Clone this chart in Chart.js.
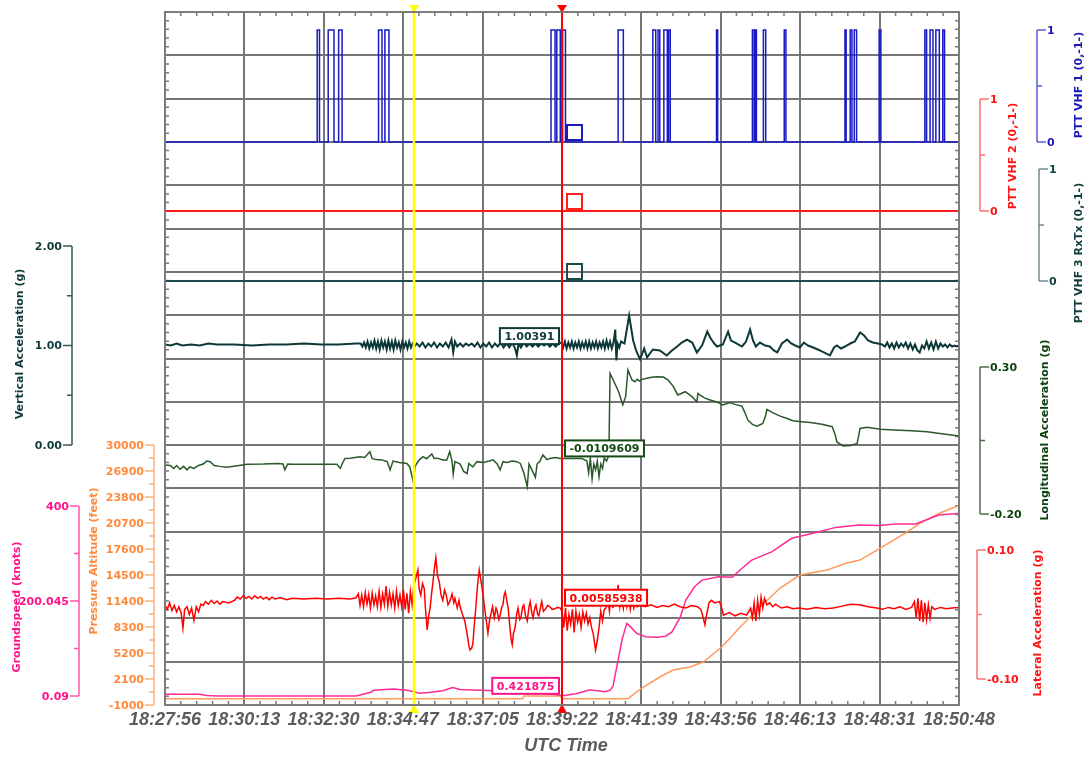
<!DOCTYPE html>
<html>
<head>
<meta charset="utf-8">
<title>Flight data plot</title>
<script src="https://cdn.jsdelivr.net/npm/chart.js@4.4.1/dist/chart.umd.min.js"></script>
<style>
  html, body { margin: 0; padding: 0; background: #fff; }
  canvas { display: block; }
</style>
</head>
<body>
<canvas id="chart" width="1089" height="761"></canvas>
<script>
// time axis, seconds after 18:27:56 UTC
const timeLabels = ['18:27:56', '18:30:13', '18:32:30', '18:34:47', '18:37:05', '18:39:22',
                    '18:41:39', '18:43:56', '18:46:13', '18:48:31', '18:50:48'];
const timeSeconds = [0, 137, 274, 411, 549, 686, 823, 960, 1097, 1235, 1372];
const cursorSeconds = [430, 686]; // yellow, red

// PTT VHF 1 switching (time, state)
const vhf1Time = [0, 263, 267, 282, 292, 300, 306, 369, 375, 380, 387, 667, 674, 677, 683, 687, 692,
  783, 792, 843, 848, 852, 855, 862, 868, 870, 873, 953, 955, 1015, 1018, 1020, 1022, 1034, 1038,
  1070, 1073, 1175, 1177, 1184, 1187, 1191, 1195, 1234, 1237, 1313, 1316, 1322, 1327, 1332, 1338,
  1344, 1347, 1372];
const vhf1State = [0, 1, 0, 1, 0, 1, 0, 1, 0, 1, 0, 1, 0, 1, 0, 1, 0,
  1, 0, 1, 0, 1, 0, 1, 0, 1, 0, 1, 0, 1, 0, 1, 0, 1, 0,
  1, 0, 1, 0, 1, 0, 1, 0, 1, 0, 1, 0, 1, 0, 1, 0,
  1, 0, 0];
const vhf2Time = [0, 1372];
const vhf2State = [0, 0];
const vhf3Time = [0, 1372];
const vhf3State = [0, 0];

// vertical acceleration (g)
const vertAcc = [
  [0,1.01],[10,1.00],[20,1.02],[30,1.00],[45,1.01],[60,1.00],[75,1.02],[90,1.01],[120,1.01],[150,1.00],
  [180,1.01],[210,1.01],[240,1.02],[270,1.01],[300,1.01],[330,1.02],
  [338,1.02],[341,0.99],[344,1.03],[347,0.98],[350,1.04],[353,0.97],[356,1.03],[359,0.98],[362,1.05],
  [365,0.97],[368,1.04],[371,0.96],[374,1.05],[377,0.98],[380,1.04],[383,0.96],[386,1.05],[389,0.97],
  [392,1.04],[395,0.96],[398,1.05],[401,0.98],[404,1.03],[407,0.96],[410,1.04],[413,0.98],[416,1.03],
  [419,0.97],[422,1.04],[425,0.98],[428,1.02],[431,0.99],
  [435,1.02],[440,0.99],[445,1.03],[450,0.98],[455,1.02],[460,0.99],[465,1.03],[470,0.98],[475,1.02],
  [480,0.99],[485,1.03],[490,0.98],[495,1.06],[498,0.93],[501,1.04],[505,0.99],[510,1.02],[515,0.99],
  [520,1.02],[525,1.00],[530,1.02],[535,0.99],[540,1.03],[545,0.98],[550,1.02],[555,0.99],[560,1.03],
  [565,0.98],[570,1.02],[575,0.99],[580,1.03],[585,0.98],[590,1.02],[595,0.98],[600,1.03],[605,0.97],
  [608,0.90],[611,1.02],[615,0.98],[620,1.03],[625,0.99],[630,1.02],[635,0.99],[640,1.02],[645,0.99],
  [650,1.02],[655,1.00],[660,1.02],[665,0.99],[670,1.02],[675,0.99],[680,1.02],
  [685,1.03],[688,0.98],[691,1.04],[694,0.97],[697,1.03],[700,0.98],[703,1.04],[706,0.97],[709,1.03],
  [712,0.98],[715,1.04],[718,0.97],[721,1.03],[724,0.98],[727,1.04],[730,0.97],[733,1.04],[736,0.97],
  [739,1.03],[742,0.98],[745,1.04],[748,0.97],[751,1.03],[754,0.98],[757,1.04],[760,0.97],[763,1.05],
  [766,0.98],[769,1.04],[772,0.97],[775,1.03],[778,1.16],[780,0.85],[782,1.02],[785,0.98],[788,1.04],
  [794,1.02],[802,1.30],[809,1.05],[814,0.95],[821,0.86],[828,0.97],[833,0.88],[843,0.96],[855,0.95],
  [867,0.90],[876,0.95],[885,0.99],[893,1.03],[902,1.06],[911,1.03],[919,0.93],[928,1.00],[937,1.14],
  [942,1.08],[949,1.02],[954,0.99],[964,1.01],[973,1.14],[978,1.05],[985,1.03],[997,0.99],[1004,1.04],
  [1011,1.16],[1016,1.05],[1021,0.99],[1028,1.03],[1037,1.00],[1045,0.99],[1052,0.95],[1058,0.93],
  [1066,1.02],[1075,1.06],[1082,1.02],[1089,1.00],[1097,0.98],[1104,1.03],[1111,1.00],[1120,0.98],
  [1128,0.96],[1135,0.94],[1142,0.92],[1149,0.90],[1156,0.98],[1161,1.00],[1168,0.97],[1175,0.99],
  [1184,1.02],[1192,1.04],[1201,1.13],[1208,1.10],[1215,1.05],[1223,1.03],[1232,1.02],[1239,1.01],
  [1244,0.99],[1248,1.03],[1252,0.98],[1256,1.02],[1260,0.97],[1264,1.03],[1268,0.98],[1272,1.02],
  [1276,0.99],[1280,1.03],[1284,0.97],[1288,1.02],[1292,0.96],[1296,1.01],[1300,0.95],[1304,0.93],
  [1308,1.00],[1312,0.97],[1316,1.04],[1320,0.97],[1324,1.03],[1328,0.96],[1332,1.04],[1336,0.97],
  [1340,1.02],[1344,0.99],[1348,1.01],[1352,0.98],[1356,1.01],[1360,0.99],[1364,1.00],[1368,0.99],[1372,1.00]
];

// longitudinal acceleration (g)
const lonAcc = [
  [0,-0.033],[9,-0.035],[15,-0.045],[20,-0.035],[26,-0.048],[32,-0.038],[38,-0.050],[43,-0.040],
  [50,-0.045],[58,-0.035],[66,-0.030],[72,-0.020],[78,-0.022],[85,-0.035],[95,-0.038],[107,-0.041],
  [125,-0.036],[142,-0.031],[170,-0.030],[195,-0.028],[204,-0.030],[207,-0.050],[212,-0.030],[221,-0.031],
  [260,-0.031],[297,-0.031],[303,-0.045],[306,-0.030],[311,-0.011],[320,-0.010],[337,-0.005],[345,-0.008],
  [354,0.012],[358,-0.012],[365,-0.015],[375,-0.016],[384,-0.022],[389,-0.050],[394,-0.020],[405,-0.025],
  [418,-0.028],[423,-0.040],[429,-0.090],[432,-0.040],[435,-0.028],[440,-0.015],[446,-0.005],[452,-0.012],
  [461,0.004],[465,-0.011],[470,-0.010],[480,-0.016],[487,-0.016],[492,0.012],[496,-0.020],[498,-0.065],
  [501,-0.022],[510,-0.030],[516,-0.055],[522,-0.062],[525,-0.028],[532,-0.040],[539,-0.022],[550,-0.025],
  [560,-0.020],[567,-0.016],[574,-0.030],[579,-0.050],[584,-0.022],[591,-0.025],[600,-0.020],[608,-0.022],
  [614,-0.028],[620,-0.060],[626,-0.107],[629,-0.030],[634,-0.050],[640,-0.075],[643,-0.030],[648,-0.020],
  [653,0.001],[660,-0.015],[665,-0.011],[675,-0.008],[683,-0.011],[695,-0.011],[710,-0.011],[720,-0.011],
  [729,-0.020],[732,-0.060],[735,-0.010],[738,-0.080],[741,-0.030],[744,-0.050],[747,-0.020],[750,-0.073],
  [753,-0.030],[756,-0.045],[759,-0.010],[763,-0.020],[767,0.000],[769,0.278],[776,0.250],[784,0.215],
  [791,0.171],[796,0.200],[800,0.290],[804,0.270],[807,0.256],[812,0.250],[816,0.258],[820,0.252],
  [824,0.258],[833,0.262],[841,0.265],[850,0.267],[861,0.266],[869,0.256],[878,0.235],[886,0.205],
  [892,0.210],[899,0.216],[910,0.200],[919,0.182],[921,0.210],[924,0.205],[932,0.195],[942,0.188],
  [955,0.180],[964,0.171],[970,0.175],[976,0.179],[986,0.172],[997,0.167],[1002,0.145],[1007,0.120],
  [1015,0.105],[1023,0.099],[1033,0.108],[1038,0.135],[1040,0.156],[1050,0.145],[1063,0.133],[1075,0.125],
  [1085,0.117],[1100,0.114],[1115,0.111],[1135,0.105],[1153,0.097],[1158,0.070],[1161,0.045],[1172,0.031],
  [1185,0.033],[1196,0.040],[1199,0.070],[1201,0.091],[1213,0.095],[1236,0.088],[1260,0.086],[1290,0.083],
  [1317,0.080],[1345,0.072],[1372,0.065]
];

// lateral acceleration (g)
const latAcc = [
  [0,0.015],[4,0.008],[8,0.018],[12,0.006],[16,0.014],[20,0.004],[24,0.012],[28,0.002],[31,-0.021],
  [34,0.008],[38,0.012],[42,0.000],[46,0.010],[50,-0.009],[54,0.012],[58,0.004],[62,0.016],[66,0.014],
  [70,0.020],[75,0.016],[80,0.022],[85,0.017],[90,0.021],[95,0.016],[100,0.020],[110,0.018],[120,0.022],
  [125,0.027],[130,0.024],[135,0.029],[140,0.025],[145,0.028],[150,0.024],[155,0.029],[160,0.025],
  [165,0.028],[170,0.024],[175,0.027],[180,0.023],[185,0.027],[190,0.024],[200,0.026],[210,0.023],
  [220,0.025],[240,0.024],[260,0.025],[280,0.024],[300,0.025],[320,0.024],[330,0.026],
  [334,0.032],[337,0.014],[340,0.030],[343,0.012],[346,0.034],[349,0.016],[352,0.031],[355,0.010],
  [358,0.033],[361,0.015],[364,0.029],[367,0.012],[370,0.036],[373,0.011],[376,0.032],[379,0.016],
  [382,0.044],[385,0.013],[388,0.034],[391,0.015],[394,0.032],[397,0.010],[400,0.036],[403,0.014],
  [406,0.030],[409,0.012],[412,0.038],[415,0.008],[418,0.033],[421,0.002],[424,0.036],[427,0.015],[430,0.045],
  [437,0.069],[439,0.040],[442,0.030],[445,0.048],[448,0.040],[450,0.010],[453,-0.024],[456,0.000],
  [458,0.010],[461,0.035],[463,0.050],[466,0.075],[468,0.088],[471,0.060],[474,0.050],[477,0.030],
  [480,0.022],[483,0.038],[486,0.030],[489,0.015],[492,0.020],[496,0.032],[499,0.018],[501,0.025],
  [505,0.010],[508,0.022],[510,0.012],[514,0.000],[518,-0.010],[522,-0.030],[525,-0.048],[527,-0.055],
  [530,-0.052],[532,-0.045],[535,-0.010],[537,0.010],[540,0.045],[543,0.069],[546,0.052],[548,0.040],
  [551,0.020],[553,0.005],[556,-0.015],[558,-0.029],[561,-0.008],[563,0.000],[566,0.012],[569,-0.005],
  [572,0.010],[574,0.005],[577,-0.008],[579,-0.002],[582,0.012],[584,0.015],[586,0.030],[588,0.035],
  [591,0.020],[593,0.010],[596,-0.020],[598,-0.038],[600,-0.047],[602,-0.030],[605,-0.020],[608,0.002],
  [610,0.010],[613,-0.008],[615,-0.005],[618,0.012],[620,0.015],[623,-0.002],[626,-0.010],[629,0.012],
  [631,0.020],[634,0.002],[636,-0.005],[639,0.010],[641,0.015],[644,0.000],[646,-0.002],[649,0.012],
  [651,0.020],[654,0.005],[657,0.008],[661,0.014],[665,0.012],[669,0.008],[674,0.009],[678,0.011],[683,0.010],
  [686,0.005],[689,-0.020],[692,0.010],[695,-0.025],[698,0.000],[701,-0.015],[704,0.008],[707,-0.028],
  [710,0.005],[713,-0.012],[716,0.000],[719,-0.020],[722,0.004],[725,-0.010],[728,0.002],[731,-0.015],
  [734,-0.005],[737,-0.020],[740,-0.030],[744,-0.055],[747,-0.040],[750,-0.020],[753,0.005],[756,-0.010],
  [759,0.008],[762,0.010],[765,0.025],[768,0.005],[771,0.035],[774,0.010],[777,0.040],[780,0.015],
  [783,0.046],[786,0.012],[789,0.030],[792,0.010],[795,0.028],[798,0.012],[801,0.030],[804,0.008],
  [807,0.025],[810,0.010],[813,0.020],[816,0.012],[820,0.015],
  [830,0.012],[840,0.015],[850,0.011],[860,0.014],[870,0.012],[880,0.016],[890,0.012],[900,0.010],
  [910,0.014],[920,0.012],[926,0.008],[930,-0.005],[933,-0.016],[936,0.000],[940,0.018],[944,0.022],
  [950,0.018],[958,0.020],[962,0.010],[965,-0.001],[975,0.003],[985,-0.002],[995,0.002],[1005,-0.001],
  [1012,0.010],[1015,-0.005],[1018,0.018],[1021,-0.010],[1024,0.022],[1027,0.000],[1030,0.027],[1033,0.010],
  [1036,0.025],[1040,0.015],[1045,0.018],[1050,0.012],[1055,0.016],[1065,0.010],[1075,0.012],[1085,0.009],
  [1095,0.010],[1110,0.008],[1125,0.011],[1140,0.009],[1155,0.010],[1170,0.013],[1185,0.016],[1200,0.015],
  [1215,0.012],[1230,0.010],[1240,0.008],[1250,0.011],[1260,0.009],[1270,0.012],[1280,0.008],[1290,0.011],
  [1295,0.020],[1298,-0.005],[1301,0.025],[1304,-0.010],[1307,0.022],[1310,-0.012],[1313,0.018],[1316,-0.008],
  [1319,0.015],[1322,-0.006],[1325,0.012],[1330,0.008],[1340,0.011],[1350,0.009],[1360,0.010],[1372,0.011]
];

// groundspeed (knots)
const groundspeed = [
  [0,4],[60,4],[72,1],[90,0],[150,0],[200,0],[270,0],[330,0],[337,2],[355,8],[361,12],[380,14],[395,15],
  [418,12],[430,9],[440,6],[460,8],[480,11],[497,18],[510,14],[545,12],[570,11],[600,10],[640,8],[680,2],
  [690,1],[710,5],[734,13],[760,9],[769,12],[774,20],[782,70],[790,120],[798,153],[805,145],[815,132],
  [830,125],[850,124],[865,126],[876,135],[890,165],[900,202],[915,230],[928,244],[957,251],[980,250],
  [997,269],[1014,286],[1049,304],[1083,332],[1118,342],[1159,355],[1199,360],[1233,359],[1262,362],
  [1297,362],[1337,381],[1369,384],[1372,384]
];

// pressure altitude (feet)
const altitude = [
  [0,-250],[618,-250],[620,70],[683,70],[686,-250],[800,-250],[824,1026],[855,2338],[878,3172],[907,3530],
  [930,4126],[962,5914],[994,8298],[1028,10682],[1063,12946],[1097,14496],[1144,15092],[1178,15926],
  [1201,16284],[1236,17714],[1282,19622],[1305,20694],[1339,21886],[1372,22800]
];

// axis ticks
const pttTicks = [0, 1];
const vertTicks = [0, 1, 2];
const lonTicks = [-0.2, 0.3];
const latTicks = [-0.1, 0.1];
const gsTicks = [0.09, 200.045, 400];
const altTicks = [-1000, 2100, 5200, 8300, 11400, 14500, 17600, 20700, 23800, 26900, 30000];

// readouts at the red cursor
const readouts = ['1.00391', '-0.0109609', '0.00585938', '0.421875'];

// ---------------------------------------------------------------

const PLOT = { left: 165, top: 12, right: 959, bottom: 705 };
const ROWS = 16;

// y range so that value lo sits at pixel yLo and hi at pixel yHi
function fitScale(lo, hi, yLo, yHi) {
  const k = (yLo - yHi) / (hi - lo);
  return { min: lo - (PLOT.bottom - yLo) / k, max: hi + (yHi - PLOT.top) / k, display: false, type: 'linear' };
}

function zip(t, v) {
  return t.map((x, i) => [x, v[i]]);
}

function series(label, data, axis, color, width, extra) {
  return Object.assign({
    label: label, data: data, yAxisID: axis,
    borderColor: color, borderWidth: width,
    pointRadius: 0, fill: false, tension: 0
  }, extra || {});
}

const fmt2 = v => v.toFixed(2);
const fmtRaw = v => String(v);

const axes = [
  { id: 'yVhf1', side: 1, x: 1037, ticks: pttTicks, minor: [0.5], fmt: fmtRaw,
    line: '#5a5ad8', text: '#1818b8', title: 'PTT VHF 1 (0,-1-)', tx: 1079, ty: 85 },
  { id: 'yVhf2', side: 1, x: 980, ticks: pttTicks, minor: [0.5], fmt: fmtRaw,
    line: '#ff6f6f', text: '#ff1414', title: 'PTT VHF 2 (0,-1-)', tx: 1013, ty: 156 },
  { id: 'yVhf3', side: 1, x: 1039, ticks: pttTicks, minor: [0.5], fmt: fmtRaw,
    line: '#738a8a', text: '#0f3d3d', title: 'PTT VHF 3 RxTx (0,-1-)', tx: 1079, ty: 253 },
  { id: 'yLon', side: 1, x: 980, ticks: lonTicks, minor: [0.05], fmt: fmt2,
    line: '#4d6b4d', text: '#0f420f', title: 'Longitudinal Acceleration (g)', tx: 1045, ty: 430 },
  { id: 'yLat', side: 1, x: 977, ticks: latTicks, minor: [0], fmt: fmt2,
    line: '#ff7474', text: '#ff1414', title: 'Lateral Acceleration (g)', tx: 1038, ty: 623 },
  { id: 'yVert', side: -1, x: 72, ticks: vertTicks, minor: [0.5, 1.5], fmt: fmt2,
    line: '#365656', text: '#0f3a3a', title: 'Vertical Acceleration (g)', tx: 20, ty: 344 },
  { id: 'yAlt', side: -1, x: 154, ticks: altTicks, minor: altTicks.slice(1).map(v => v - 1550), fmt: fmtRaw,
    line: '#ffae80', text: '#ff8a3d', title: 'Pressure Altitude (feet)', tx: 94, ty: 561 },
  { id: 'yGs', side: -1, x: 79, ticks: gsTicks, minor: [100, 300], fmt: fmtRaw,
    line: '#ff55aa', text: '#ff1488', title: 'Groundspeed (knots)', tx: 17, ty: 607 }
];

const readoutDefs = [
  { axis: 'yVert', side: -1, color: '#0f3a3a', lift: 1 },
  { axis: 'yLon', side: 1, color: '#174a17', lift: 2 },
  { axis: 'yLat', side: 1, color: '#ff0000', lift: 5 },
  { axis: 'yGs', side: -1, color: '#ff1488', lift: 2 }
];

const squareDefs = [
  { axis: 'yVhf1', color: '#1a1ac0' },
  { axis: 'yVhf2', color: '#ff2020' },
  { axis: 'yVhf3', color: '#1d4b4b' }
];

const AXIS_FONT = 'bold 11px "DejaVu Sans", Verdana, sans-serif';

const overlay = {
  id: 'overlay',
  beforeDatasetsDraw(chart) {
    const { ctx, chartArea: a, scales } = chart;
    const xs = scales.x, g = scales.yGrid;
    ctx.save();
    // small ticks round the frame
    ctx.strokeStyle = '#7a7a7a';
    ctx.lineWidth = 1.5;
    ctx.beginPath();
    for (let i = 0; i < timeSeconds.length - 1; i++) {
      for (let j = 1; j < 5; j++) {
        const px = xs.getPixelForValue(timeSeconds[i] + (timeSeconds[i + 1] - timeSeconds[i]) * j / 5);
        ctx.moveTo(px, a.top); ctx.lineTo(px, a.top + 4);
        ctx.moveTo(px, a.bottom); ctx.lineTo(px, a.bottom - 4);
      }
    }
    for (let k = 1; k < ROWS * 5; k++) {
      if (k % 5 === 0) continue;
      const py = g.getPixelForValue(k / 5);
      ctx.moveTo(a.left, py); ctx.lineTo(a.left + 4, py);
      ctx.moveTo(a.right, py); ctx.lineTo(a.right - 4, py);
    }
    ctx.stroke();
    // grid
    ctx.strokeStyle = '#767676';
    ctx.lineWidth = 2;
    ctx.beginPath();
    timeSeconds.forEach(s => {
      const px = Math.round(xs.getPixelForValue(s));
      ctx.moveTo(px, a.top - 1); ctx.lineTo(px, a.bottom + 1);
    });
    for (let k = 0; k <= ROWS; k++) {
      const py = Math.round(g.getPixelForValue(k));
      ctx.moveTo(a.left, py); ctx.lineTo(a.right, py);
    }
    ctx.stroke();
    ctx.restore();
  },
  afterDatasetsDraw(chart) {
    const { ctx, chartArea: a, scales } = chart;
    const xs = scales.x;
    ctx.save();

    // cursors
    const cursorColors = ['#ffff00', '#ff0000'];
    cursorSeconds.forEach((s, i) => {
      const px = Math.round(xs.getPixelForValue(s));
      ctx.strokeStyle = cursorColors[i];
      ctx.lineWidth = i === 0 ? 2.5 : 2;
      ctx.beginPath();
      ctx.moveTo(px, a.top - 6); ctx.lineTo(px, a.bottom + 7);
      ctx.stroke();
      ctx.fillStyle = cursorColors[i];
      ctx.beginPath();
      ctx.moveTo(px - 5, a.top - 7); ctx.lineTo(px + 5, a.top - 7); ctx.lineTo(px, a.top + 1); ctx.closePath();
      ctx.fill();
      ctx.beginPath();
      ctx.moveTo(px - 5, a.bottom + 8); ctx.lineTo(px + 5, a.bottom + 8); ctx.lineTo(px, a.bottom - 1); ctx.closePath();
      ctx.fill();
    });

    const redX = Math.round(xs.getPixelForValue(cursorSeconds[1]));

    // PTT state squares at the red cursor
    squareDefs.forEach(d => {
      const py = scales[d.axis].getPixelForValue(0);
      ctx.strokeStyle = d.color;
      ctx.lineWidth = 2;
      ctx.strokeRect(redX + 5, py - 17, 15, 15);
    });

    // readout boxes
    ctx.font = AXIS_FONT;
    ctx.textBaseline = 'middle';
    readoutDefs.forEach((d, i) => {
      const txt = readouts[i];
      const w = ctx.measureText(txt).width + 9;
      const h = 16;
      const py = scales[d.axis].getPixelForValue(Number(txt)) - d.lift;
      const left = d.side < 0 ? redX - 3 - w : redX + 3;
      ctx.fillStyle = '#ffffff';
      ctx.fillRect(left, py - h, w, h);
      ctx.strokeStyle = d.color;
      ctx.lineWidth = 2;
      ctx.strokeRect(left, py - h, w, h);
      ctx.fillStyle = d.color;
      ctx.textAlign = 'center';
      ctx.fillText(txt, left + w / 2, py - h / 2 + 1);
    });

    // frame
    ctx.strokeStyle = '#7c7c7c';
    ctx.lineWidth = 2;
    ctx.strokeRect(a.left, a.top, a.right - a.left, a.bottom - a.top);

    // value axes drawn as brackets beside the plot
    axes.forEach(ax => {
      const s = scales[ax.id];
      const ys = ax.ticks.map(v => s.getPixelForValue(v));
      ctx.strokeStyle = ax.line;
      ctx.lineWidth = 1.5;
      ctx.beginPath();
      ctx.moveTo(ax.x, Math.min(...ys)); ctx.lineTo(ax.x, Math.max(...ys));
      ys.forEach(y => { ctx.moveTo(ax.x, y); ctx.lineTo(ax.x + ax.side * 9, y); });
      ax.minor.forEach(v => {
        const y = s.getPixelForValue(v);
        ctx.moveTo(ax.x, y); ctx.lineTo(ax.x + ax.side * 5, y);
      });
      ctx.stroke();
      ctx.fillStyle = ax.text;
      ctx.font = AXIS_FONT;
      ctx.textBaseline = 'middle';
      ctx.textAlign = ax.side < 0 ? 'right' : 'left';
      ax.ticks.forEach((v, i) => ctx.fillText(ax.fmt(v), ax.x + ax.side * 10, ys[i] + 1));
      ctx.save();
      ctx.translate(ax.tx, ax.ty);
      ctx.rotate(-Math.PI / 2);
      ctx.textAlign = 'center';
      ctx.fillText(ax.title, 0, 0);
      ctx.restore();
    });

    // time labels
    ctx.fillStyle = '#5c5c5c';
    ctx.font = 'italic bold 18px "Liberation Sans", Arial, sans-serif';
    ctx.textAlign = 'center';
    ctx.textBaseline = 'middle';
    timeSeconds.forEach((s, i) => ctx.fillText(timeLabels[i], xs.getPixelForValue(s), a.bottom + 15));
    ctx.fillText('UTC Time', (a.left + a.right) / 2 + 4, a.bottom + 41);
    ctx.restore();
  }
};

new Chart(document.getElementById('chart'), {
  type: 'line',
  data: {
    datasets: [
      series('Vertical Acceleration', vertAcc, 'yVert', '#0d3838', 2),
      series('Longitudinal Acceleration', lonAcc, 'yLon', '#2b582b', 1.5),
      series('Lateral Acceleration', latAcc, 'yLat', '#ff0000', 1.5),
      series('PTT VHF 1', zip(vhf1Time, vhf1State), 'yVhf1', '#1a1ac4', 1.5, { stepped: true }),
      series('PTT VHF 2', zip(vhf2Time, vhf2State), 'yVhf2', '#ff1a1a', 2),
      series('PTT VHF 3 RxTx', zip(vhf3Time, vhf3State), 'yVhf3', '#1d4b4b', 2),
      series('Groundspeed', groundspeed, 'yGs', '#ff2b95', 1.5),
      series('Pressure Altitude', altitude, 'yAlt', '#ff9a5c', 1.5)
    ]
  },
  options: {
    responsive: false,
    animation: false,
    events: [],
    layout: { padding: { left: PLOT.left, top: PLOT.top, right: 1089 - PLOT.right, bottom: 761 - PLOT.bottom } },
    plugins: { legend: { display: false }, tooltip: { enabled: false } },
    scales: {
      x: { type: 'linear', min: 0, max: 1372, display: false },
      yGrid: { type: 'linear', min: 0, max: ROWS, reverse: true, display: false },
      yVhf1: fitScale(0, 1, 142, 30),
      yVhf2: fitScale(0, 1, 211, 99),
      yVhf3: fitScale(0, 1, 281, 169),
      yVert: fitScale(0, 2, 445, 246),
      yLon: fitScale(-0.2, 0.3, 514, 367),
      yLat: fitScale(-0.1, 0.1, 679, 550),
      yGs: fitScale(0.09, 400, 696, 506),
      yAlt: fitScale(-1000, 30000, 705, 445)
    }
  },
  plugins: [overlay]
});
</script>
</body>
</html>
